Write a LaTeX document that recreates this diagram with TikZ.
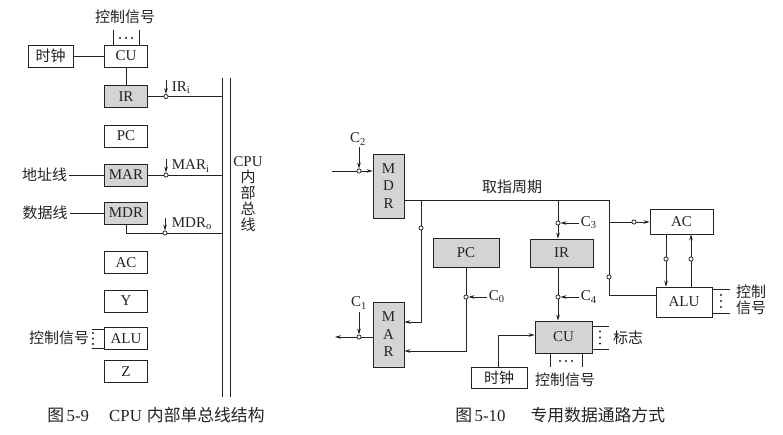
\documentclass[tikz,border=0pt]{standalone}
\usepackage{fontspec}
\setmainfont{Liberation Serif}
\newfontfamily\cjk{Noto Sans CJK SC}
\usetikzlibrary{arrows.meta}
\definecolor{boxgray}{RGB}{212,212,212}
\definecolor{ink}{RGB}{35,35,35}
\begin{document}
\begin{tikzpicture}[x=1pt,y=-1pt,
  every node/.style={font=\fontsize{15}{16}\selectfont, text=ink},
  box/.style={draw=ink, inner sep=0pt},
  gbox/.style={box, fill=boxgray},
  lb/.style={minimum width=43pt, minimum height=22pt},
  lbl/.style={inner sep=0pt},
  cl/.style={inner sep=1.5pt, anchor=west},
  tap/.style={circle, draw=ink, fill=white, inner sep=0pt, minimum size=4.2pt},
  arr/.style={-{Stealth[length=6pt,width=3.6pt]}},
  capfont/.style={font=\fontsize{16.8}{18}\selectfont},
  line width=0.75pt, draw=ink]
\fill[white] (0,0) rectangle (783,435);
\useasboundingbox (0,0) rectangle (783,435);

% ---------------- left: single bus ----------------
\node[box,lb,minimum width=45pt] (clkL) at (50.5,56) {\cjk 时钟};
\node[box,lb] (cuL) at (126,56) {CU};
\node[gbox,lb] (irL) at (126,96.5) {IR};
\node[box,lb] (pcL) at (126,136) {PC};
\node[gbox,lb] (marL) at (126,175) {MAR};
\node[gbox,lb] (mdrL) at (126,213) {MDR};
\node[box,lb] (acL) at (126,262.5) {AC};
\node[box,lb] (yL) at (126,301) {Y};
\node[box,lb] (aluL) at (126,338.5) {ALU};
\node[box,lb] (zL) at (126,371.5) {Z};

\node[lbl] (ctlTop) at (125,17) {\cjk 控制信号};
\coordinate (ct1) at (113,30);
\coordinate (ct2) at (139,30);
\draw (ct1) -- (ct1 |- cuL.north);
\draw (ct2) -- (ct2 |- cuL.north);
\foreach \px in {120,126,132} \fill[ink] (\px,38) circle (1.05pt);

\draw (clkL) -- (cuL);
\draw (cuL) -- (irL);

% bus
\coordinate (b1t) at (222,78); \coordinate (b1b) at (222,397);
\coordinate (b2t) at (230,78); \coordinate (b2b) at (230,397);
\draw (b1t) -- (b1b);
\draw (b2t) -- (b2b);
\node[lbl, align=center, font=\fontsize{15}{16}\selectfont] (busL) at (248,194)
  {CPU\\{\cjk 内}\\{\cjk 部}\\{\cjk 总}\\{\cjk 线}};

% IR
\coordinate (irB) at (222,96.5);
\draw (irL) -- (irB);
\node[tap] (irT) at (166,96.5) {};
\coordinate (irA) at (166,80);
\draw[arr] (irA) -- (irT);
\node[cl] (irLab) at (170,88) {IR\textsubscript{i}};

% MAR
\node[lbl] (addr) at (44.5,175) {\cjk 地址线};
\draw (addr.east) ++(2,0) coordinate (addrE) -- (marL.west);
\coordinate (marB) at (222,175);
\draw (marL) -- (marB);
\node[tap] (marT) at (166,175) {};
\coordinate (marA) at (166,159);
\draw[arr] (marA) -- (marT);
\node[cl] (marLab) at (170,166) {MAR\textsubscript{i}};

% MDR
\node[lbl] (data) at (45,213) {\cjk 数据线};
\draw (data.east) ++(2,0) coordinate (dataE) -- (mdrL.west);
\coordinate (mdrC) at (126,233);
\coordinate (mdrB) at (222,233);
\draw (mdrL.south) -- (mdrC) -- (mdrB);
\node[tap] (mdrT) at (165,233) {};
\coordinate (mdrA) at (165,218);
\draw[arr] (mdrA) -- (mdrT);
\node[cl] (mdrLab) at (170,224) {MDR\textsubscript{o}};

% ALU control
\node[lbl] (aluCtl) at (59,338) {\cjk 控制信号};
\coordinate (ab1) at (92,329);
\coordinate (ab2) at (92,348);
\draw (ab1) -- (ab1 -| aluL.west);
\draw (ab2) -- (ab2 -| aluL.west);
\foreach \py in {333,338.5,344} \fill[ink] (93,\py) circle (1.05pt);

% ---------------- right: dedicated paths ----------------
\node[gbox, minimum width=31pt, minimum height=64pt, align=center, font=\fontsize{15}{17.5}\selectfont] (mdrR) at (388.5,186) {M\\D\\R};
\node[gbox, minimum width=31pt, minimum height=65pt, align=center, font=\fontsize{15}{17.5}\selectfont] (marR) at (388.5,334.5) {M\\A\\R};
\node[gbox, minimum width=66pt, minimum height=29pt] (pcR) at (466,252.5) {PC};
\node[gbox, minimum width=63pt, minimum height=28pt] (irR) at (561.5,253) {IR};
\node[gbox, minimum width=57pt, minimum height=32pt] (cuR) at (563.5,337) {CU};
\node[box, minimum width=56pt, minimum height=21pt] (clkR) at (499,377.5) {\cjk 时钟};
\node[box, minimum width=63pt, minimum height=25pt] (acR) at (681.5,221.5) {AC};
\node[box, minimum width=56pt, minimum height=30pt] (aluR) at (684,302) {ALU};

\node[lbl] (fetch) at (512,187) {\cjk 取指周期};

% main line from MDR
\coordinate (t1) at (421,200);
\coordinate (t2) at (558,200);
\coordinate (t3) at (609,200);
\coordinate (t4) at (609,295);
\coordinate (t5) at (609,222);
\draw (mdrR.east |- t1) -- (t3) -- (t4) -- (t4 -| aluR.west);
\draw[arr] (t5) -- (t5 -| acR.west);
\coordinate (m1) at (421,322);
\draw[arr] (t1) -- (m1) -- (m1 -| marR.east);
\draw[arr] (t2) -- (t2 |- irR.north);

% IR -> CU
\coordinate (i1) at (558,300);
\draw[arr] (irR.south -| i1) -- (cuR.north -| i1);

% PC -> MAR
\coordinate (p1) at (466,351);
\draw[arr] (pcR.south) -- (p1) -- (p1 -| marR.east);

% clock -> CU
\coordinate (k1) at (498,335);
\draw[arr] (clkR.north -| k1) -- (k1) -- (k1 -| cuR.west);

% AC <-> ALU
\coordinate (a1) at (666,260);
\coordinate (a2) at (691,260);
\draw[arr] (acR.south -| a1) -- (aluR.north -| a1);
\draw[arr] (aluR.north -| a2) -- (acR.south -| a2);

% MDR input
\coordinate (in2) at (332,171);
\draw[arr] (in2) -- (in2 -| mdrR.west);
% MAR output
\coordinate (o1) at (335,337);
\draw[arr] (marR.west |- o1) -- (o1);

% taps
\node[tap] (tMar) at (421,228) {};
\node[tap] (tAlu) at (609,277) {};
\node[tap] (tAc) at (634,222) {};
\node[tap] (tAcAlu) at (666,259) {};
\node[tap] (tAluAc) at (691,259) {};
\node[tap] (tC3) at (558,223) {};
\node[tap] (tC4) at (558,297) {};
\node[tap] (tC0) at (466,297) {};
\node[tap] (tC2) at (359,171) {};
\node[tap] (tC1) at (359,337) {};

% control labels
\node[cl] (c3) at (579,223) {C\textsubscript{3}};
\draw[arr] (c3.west) -- (tC3);
\node[cl] (c4) at (579,297) {C\textsubscript{4}};
\draw[arr] (c4.west) -- (tC4);
\node[cl] (c0) at (487,297) {C\textsubscript{0}};
\draw[arr] (c0.west) -- (tC0);
\node[lbl] (c2) at (358,139) {C\textsubscript{2}};
\coordinate (c2a) at (359,147);
\draw[arr] (c2a) -- (tC2);
\node[lbl] (c1) at (359,303) {C\textsubscript{1}};
\coordinate (c1a) at (359,312);
\draw[arr] (c1a) -- (tC1);

% CU flags
\coordinate (f1) at (609,326);
\coordinate (f2) at (609,349);
\draw (cuR.east |- f1) -- (f1);
\draw (cuR.east |- f2) -- (f2);
\foreach \py in {331.5,337.5,343.5} \fill[ink] (600,\py) circle (1.05pt);
\node[lbl] (flag) at (628,338) {\cjk 标志};

% CU control out
\coordinate (u1) at (550,367);
\coordinate (u2) at (582,367);
\draw (cuR.south -| u1) -- (u1);
\draw (cuR.south -| u2) -- (u2);
\foreach \px in {560,566,572} \fill[ink] (\px,361) circle (1.05pt);
\node[lbl] (cuCtl) at (565,380) {\cjk 控制信号};

% ALU control
\coordinate (r1) at (730,289);
\coordinate (r2) at (730,313);
\draw (aluR.east |- r1) -- (r1);
\draw (aluR.east |- r2) -- (r2);
\foreach \py in {295,301,307} \fill[ink] (721,\py) circle (1.05pt);
\node[lbl] (aluC1) at (751,292) {\cjk 控制};
\node[lbl] (aluC2) at (751,308) {\cjk 信号};

% captions
\node[lbl, anchor=west, capfont] (capL) at (47,415)
  {{\cjk 图}\hspace{0.15em}5-9\hspace{1.2em}CPU\hspace{0.3em}{\cjk 内部单总线结构}};
\node[lbl, anchor=west, capfont] (capR) at (455,415)
  {{\cjk 图}\hspace{0.15em}5-10\hspace{1.5em}{\cjk 专用数据通路方式}};
\end{tikzpicture}
\end{document}
